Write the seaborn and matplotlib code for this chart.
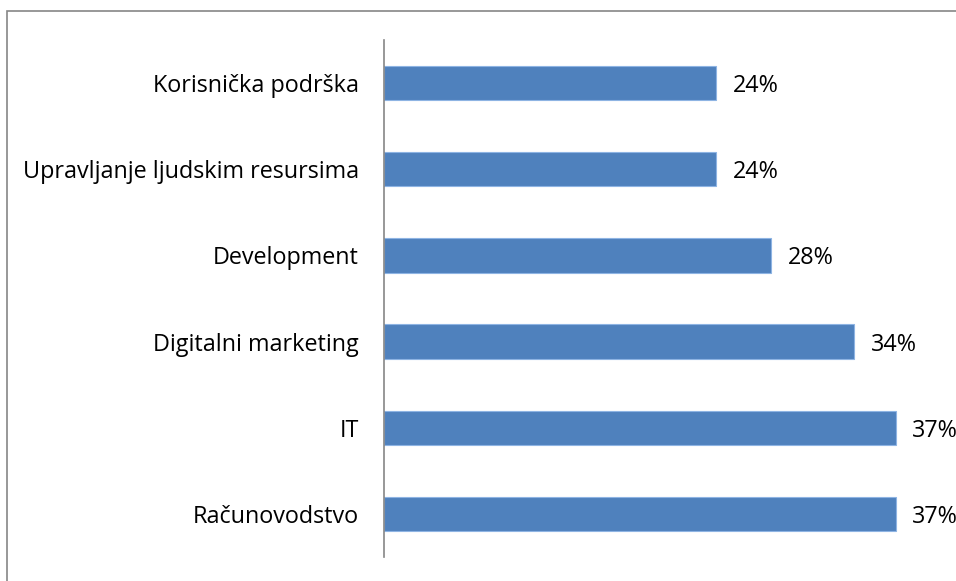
import matplotlib
matplotlib.use('Agg')
import matplotlib.pyplot as plt
import seaborn as sns
import pandas as pd
from matplotlib.patches import Rectangle

# Chart data (share of respondents per field)
categories = ['Korisnička podrška', 'Upravljanje ljudskim resursima', 'Development',
              'Digitalni marketing', 'IT', 'Računovodstvo']
values = [0.24, 0.24, 0.28, 0.34, 0.37, 0.37]
value_labels = ['24%', '24%', '28%', '34%', '37%', '37%']

df = pd.DataFrame({'category': categories, 'value': values})

sns.set_style('white')
plt.rcParams['font.family'] = ['Open Sans', 'DejaVu Sans']

fig = plt.figure(figsize=(9.56, 5.81), dpi=100)
ax = fig.add_axes([384 / 956, 24 / 581, 553 / 956, 517 / 581])

sns.barplot(data=df, x='value', y='category', orient='h', color='#4F81BD',
            saturation=1, width=0.4, edgecolor='#8EB4E3', linewidth=0.8, ax=ax)

ax.set_xlim(0, 0.40)
ax.set_xlabel('')
ax.set_ylabel('')
ax.set_xticks([])
ax.tick_params(axis='y', length=0, pad=18, labelsize=16.8, labelcolor='black')

for side in ['top', 'right', 'bottom']:
    ax.spines[side].set_visible(False)
ax.spines['left'].set_color('#868686')
ax.spines['left'].set_linewidth(1.2)

texts = ax.bar_label(ax.containers[0], labels=value_labels, padding=12, fontsize=16.8,
                     color='black', clip_on=False)
for t in texts:
    t.set_va('center_baseline')

# outer chart-area border (only top/left visible in the crop)
fig.patches.append(Rectangle((7 / 956, -0.1), 1.2, 1 - 11 / 581 + 0.1,
                             transform=fig.transFigure, fill=False,
                             edgecolor='#868686', linewidth=1.2))

fig.savefig('out.png', dpi=100)
